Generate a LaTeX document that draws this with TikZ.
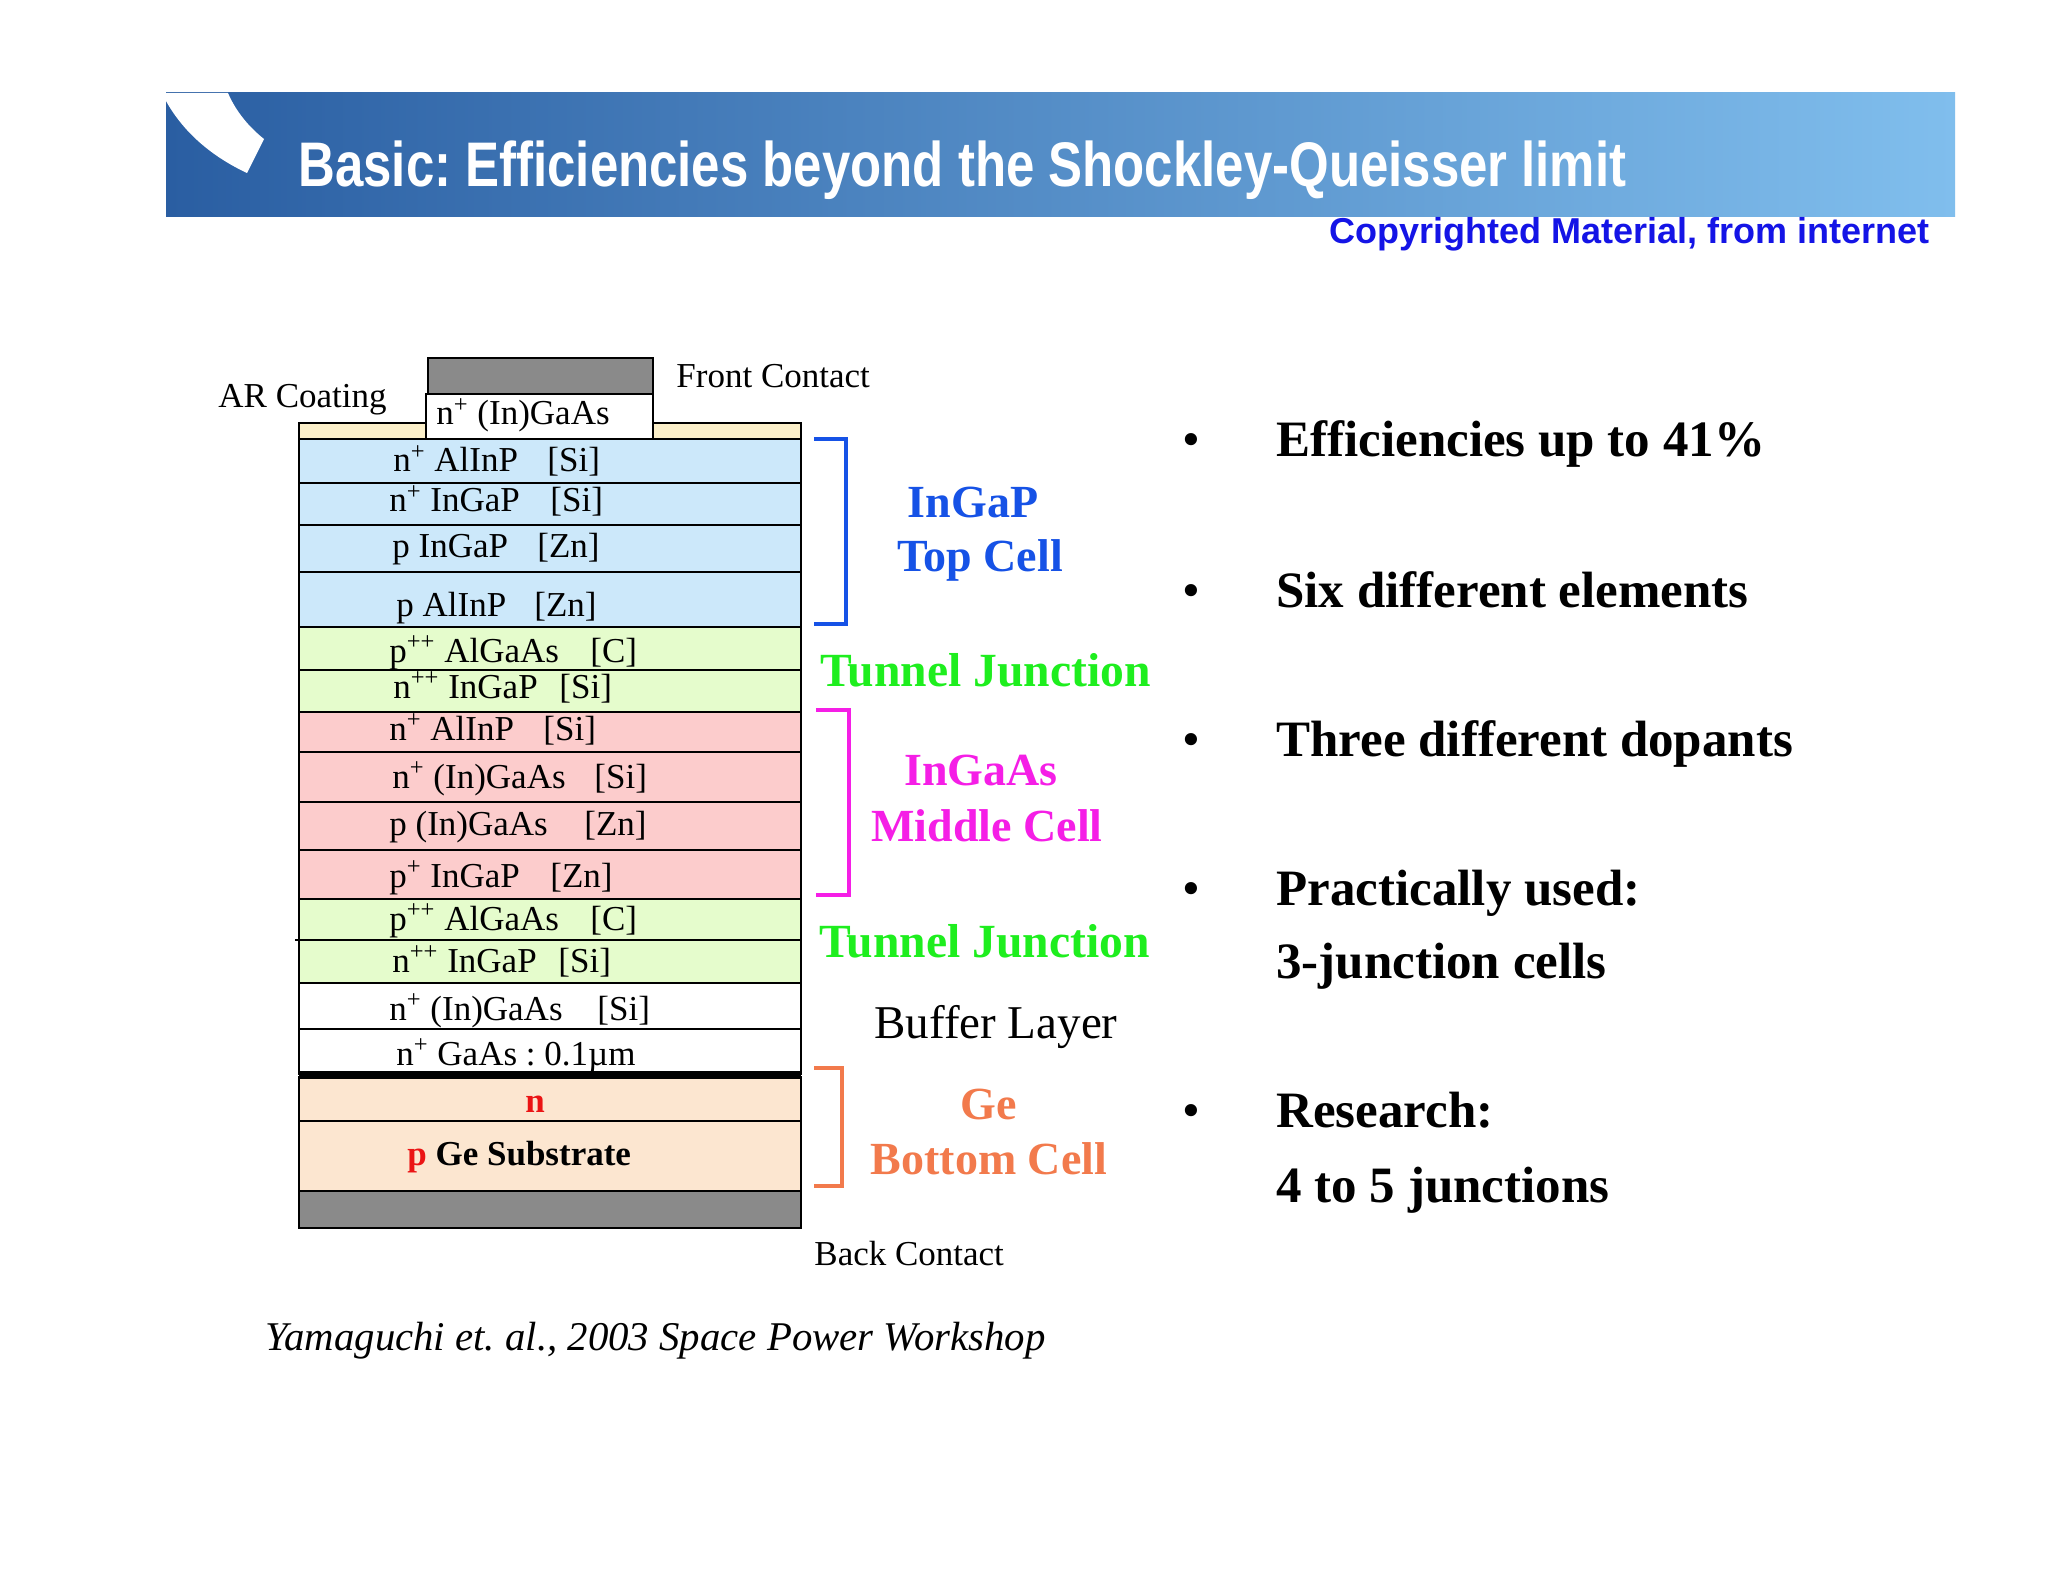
\documentclass[tikz,border=0pt]{standalone}
\usepackage{fontspec}
\usepackage{graphicx}
\setmainfont{Liberation Serif}
\newfontfamily\headsans{Liberation Sans}
\definecolor{layBlue}{RGB}{204,232,250}
\definecolor{layGreen}{RGB}{229,252,204}
\definecolor{layPink}{RGB}{252,204,204}
\definecolor{layTan}{RGB}{252,230,208}
\definecolor{arCoat}{RGB}{252,240,202}
\definecolor{contactGrey}{RGB}{138,138,138}
\definecolor{topBlue}{RGB}{22,82,230}
\definecolor{tunGreen}{RGB}{30,238,30}
\definecolor{midMag}{RGB}{245,30,230}
\definecolor{botOrange}{RGB}{242,122,76}
\definecolor{copyBlue}{RGB}{20,20,230}
\definecolor{bannerL}{RGB}{42,94,162}
\definecolor{bannerR}{RGB}{128,190,237}
\definecolor{geRed}{RGB}{235,20,20}
\frenchspacing
\begin{document}
\begin{tikzpicture}[x=0.5pt,y=-0.5pt,
  lay/.style={draw=black,line width=1pt},
  ltxt/.style={anchor=base west,inner sep=0pt,font=\fontsize{17.5}{21}\selectfont},
  side/.style={anchor=base,inner sep=0pt,font=\bfseries\fontsize{23}{28}\selectfont},
  tunl/.style={anchor=base west,inner sep=0pt,text=tunGreen,font=\bfseries\fontsize{23.8}{28}\selectfont},
  bult/.style={anchor=base west,inner sep=0pt,font=\bfseries\fontsize{25.5}{30}\selectfont},
  bdot/.style={anchor=base,inner sep=0pt,font=\fontsize{25.5}{30}\selectfont},
  brk/.style={line width=2pt}]
\useasboundingbox (0,0) rectangle (2048,1582);
\fill[white] (0,0) rectangle (2048,1582);
% banner
\shade[left color=bannerL,right color=bannerR] (166,93) rectangle (1955,217);
\fill[white] (166,93) -- (166,101) .. controls (185,135) and (215,158) .. (247,173) -- (264,139) .. controls (250,128) and (236,112) .. (228,93) -- cycle;
\node[anchor=base west,inner sep=0pt,text=white,font=\headsans\bfseries\fontsize{31.5}{38}\selectfont] (title) at (298,187)
  {\resizebox{664pt}{\height}{Basic: Efficiencies beyond the Shockley-Queisser limit}};
\node[anchor=base east,inner sep=0pt,text=copyBlue,font=\headsans\bfseries\fontsize{18}{22}\selectfont] (copy) at (1930,244)
  {\resizebox{300pt}{\height}{Copyrighted Material, from internet}};
% layers
\foreach \t/\b/\c in {439/483/layBlue,483/525/layBlue,525/572/layBlue,572/627/layBlue,627/670/layGreen,670/712/layGreen,712/752/layPink,752/802/layPink,802/850/layPink,850/899/layPink,899/940/layGreen,940/983/layGreen,983/1029/white,1029/1074/white,1077/1121/layTan,1121/1191/layTan}
  \filldraw[lay,fill=\c] (299,\t) rectangle (801,\b);
\draw[line width=1.6pt] (299,1073) -- (801,1073);
\draw[line width=1.6pt] (299,1077) -- (801,1077);
\draw[line width=1pt] (295,940) -- (795,940);
\filldraw[lay,fill=contactGrey] (299,1191) rectangle (801,1228);
\filldraw[lay,fill=arCoat] (299,423) rectangle (801,439);
\filldraw[lay,fill=white] (426,394) rectangle (653,439);
\filldraw[lay,fill=contactGrey] (428,358) rectangle (653,394);
% layer texts
\node[ltxt] (c0) at (436,425) {n\textsuperscript{+} (In)GaAs};
\node[ltxt] (a1) at (393,472) {n\textsuperscript{+} AlInP};   \node[ltxt] (d1) at (547,472) {[Si]};
\node[ltxt] (a2) at (389,512) {n\textsuperscript{+} InGaP};   \node[ltxt] (d2) at (550,512) {[Si]};
\node[ltxt] (a3) at (392,558) {p InGaP};                     \node[ltxt] (d3) at (537,558) {[Zn]};
\node[ltxt] (a4) at (396,617) {p AlInP};                     \node[ltxt] (d4) at (534,617) {[Zn]};
\node[ltxt] (a5) at (389,662) {p\textsuperscript{++} AlGaAs}; \node[ltxt] (d5) at (590,662) {[C]};
\node[ltxt] (a6) at (393,698) {n\textsuperscript{++} InGaP};  \node[ltxt] (d6) at (559,698) {[Si]};
\node[ltxt] (a7) at (389,740) {n\textsuperscript{+} AlInP};   \node[ltxt] (d7) at (543,740) {[Si]};
\node[ltxt] (a8) at (392,788) {n\textsuperscript{+} (In)GaAs}; \node[ltxt] (d8) at (594,788) {[Si]};
\node[ltxt] (a9) at (389,835) {p (In)GaAs};                  \node[ltxt] (d9) at (584,835) {[Zn]};
\node[ltxt] (a10) at (389,887) {p\textsuperscript{+} InGaP}; \node[ltxt] (d10) at (550,887) {[Zn]};
\node[ltxt] (a11) at (389,930) {p\textsuperscript{++} AlGaAs}; \node[ltxt] (d11) at (590,930) {[C]};
\node[ltxt] (a12) at (392,972) {n\textsuperscript{++} InGaP}; \node[ltxt] (d12) at (558,972) {[Si]};
\node[ltxt] (a13) at (389,1020) {n\textsuperscript{+} (In)GaAs}; \node[ltxt] (d13) at (597,1020) {[Si]};
\node[ltxt] (a14) at (396,1065) {n\textsuperscript{+} GaAs : 0.1µm};
\node[anchor=base,inner sep=0pt,font=\bfseries\fontsize{17.5}{21}\selectfont,text=geRed] (gn) at (535,1112) {n};
\node[ltxt,font=\bfseries\fontsize{17.5}{21}\selectfont] (gp) at (407,1165) {\textcolor{geRed}{p} Ge Substrate};
% outer labels
\node[ltxt] (ar) at (218,408) {AR Coating};
\node[ltxt] (fc) at (676,388) {Front Contact};
\node[ltxt] (bc) at (814,1265) {Back Contact};
% brackets
\draw[brk,topBlue] (814,439) -- (846,439) -- (846,624) -- (814,624);
\draw[brk,midMag,line width=1.6pt] (816,710) -- (849,710) -- (849,895) -- (816,895);
\draw[brk,botOrange,line width=1.6pt] (814,1068) -- (842,1068) -- (842,1186) -- (814,1186);
% side labels
\node[side,text=topBlue] (s1) at (973,518) {InGaP};
\node[side,text=topBlue] (s2) at (980,572) {Top Cell};
\node[tunl] (s3) at (820,686) {Tunnel Junction};
\node[side,text=midMag] (s4) at (981,785) {InGaAs};
\node[side,text=midMag] (s5) at (987,841) {Middle Cell};
\node[tunl] (s6) at (819,957) {Tunnel Junction};
\node[side,font=\fontsize{23.5}{28}\selectfont] (s7) at (996,1038) {Buffer Layer};
\node[side,text=botOrange] (s8) at (989,1119) {Ge};
\node[side,text=botOrange] (s9) at (989,1174) {Bottom Cell};
% bullets
\node[bdot] (b1) at (1191,457) {\textbullet};
\node[bult] (t1) at (1276,457) {Efficiencies up to 41\%};
\node[bdot] (b2) at (1191,607) {\textbullet};
\node[bult] (t2) at (1276,607) {Six different elements};
\node[bdot] (b3) at (1191,756) {\textbullet};
\node[bult] (t3) at (1276,756) {Three different dopants};
\node[bdot] (b4) at (1191,905) {\textbullet};
\node[bult] (t4) at (1276,905) {Practically used:};
\node[bult] (t5) at (1276,978) {3-junction cells};
\node[bdot] (b5) at (1191,1127) {\textbullet};
\node[bult] (t6) at (1276,1127) {Research:};
\node[bult] (t7) at (1276,1202) {4 to 5 junctions};
% citation
\node[anchor=base west,inner sep=0pt,font=\itshape\fontsize{20.4}{24}\selectfont] (cite) at (265,1350) {Yamaguchi et. al., 2003 Space Power Workshop};
\end{tikzpicture}
\end{document}
